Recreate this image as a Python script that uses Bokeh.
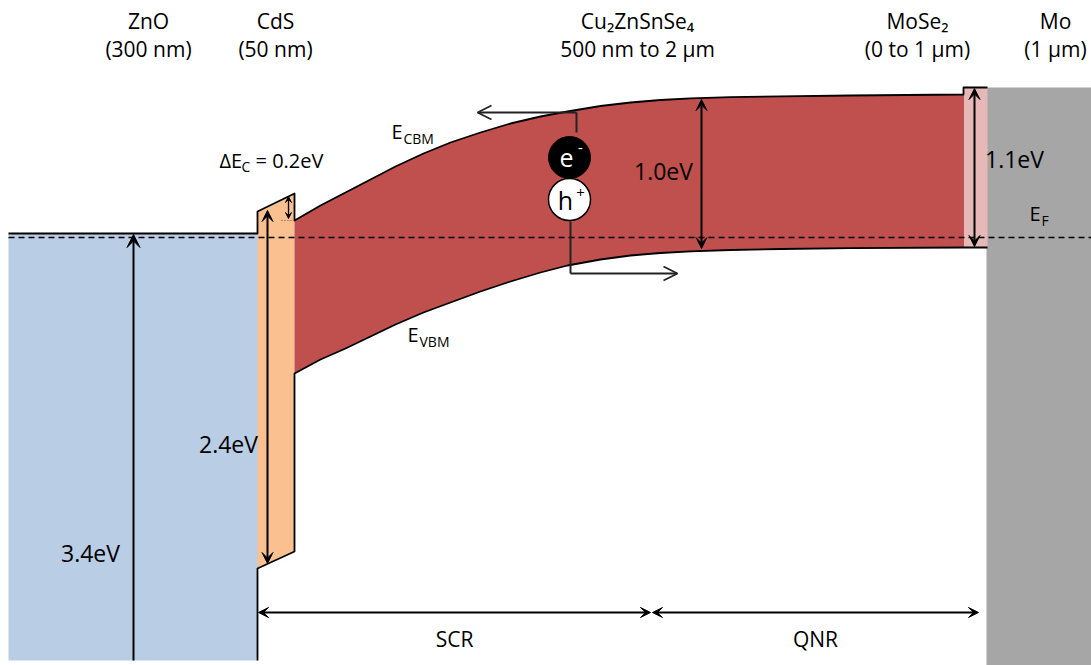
from bokeh.plotting import figure
from bokeh.models import Range1d, Arrow, VeeHead, OpenHead
from bokeh.core.properties import value
from bokeh.embed import file_html
from bokeh.resources import INLINE

# ---------------- data (diagram units: x = position, y = energy level, downward) -------------
layer_names = ["ZnO", "CdS", "Cu\u2082ZnSnSe\u2084", "MoSe\u2082", "Mo"]
layer_thick = ["(300 nm)", "(50 nm)", "500 nm to 2 \u03bcm", "(0 to 1 \u03bcm)", "(1 \u03bcm)"]
layer_center = [148, 275, 637, 917, 1055]

# layer boundaries
zno_x = [8, 257]
cds_x = [257, 294]
czts_x = [294, 963]
mose_x = [963, 987]
mo_x = [987, 1091]

# band edges
zno_cb, zno_vb = 233, 660
cds_cb = [211, 193]
cds_vb = [568, 551]
cb_x = [294, 320, 345, 370, 395, 423, 450, 480, 510, 540, 567, 600, 630, 660, 690, 730, 780, 850, 963]
cb_y = [220, 205, 192, 179, 166, 153, 142, 132, 123, 116, 111, 105.5, 102, 99.5, 97.8, 96.6, 95.8, 95, 94]
vb_x = [294, 320, 345, 370, 395, 423, 450, 480, 510, 540, 567, 600, 630, 660, 690, 730, 780, 850, 963]
vb_y = [373, 359, 348, 336, 324, 312, 302, 291, 281, 272, 265, 259, 255, 252.5, 250.8, 249.5, 248.5, 247.7, 247]
mose_cb, mose_vb = 87, 247
mo_top, mo_bottom = 87, 665
fermi = 237

gap_labels = ["3.4eV", "2.4eV", "1.0eV", "1.1eV"]
dEc_label = "= 0.2eV"
region_labels = ["SCR", "QNR"]
region_bounds = [258, 651, 978]

FONT = value("Open Sans")

p = figure(width=1091, height=665, x_range=Range1d(0, 1091), y_range=Range1d(665, 0),
           output_backend="svg", toolbar_location=None, min_border=0,
           x_axis_location=None, y_axis_location=None)
p.outline_line_color = None
p.xgrid.visible = False
p.ygrid.visible = False
p.background_fill_color = "white"
p.border_fill_color = "white"

# ---------------- fills ----------------
p.quad(left=zno_x[0], right=zno_x[1] + 0.5, top=zno_cb, bottom=zno_vb,
       fill_color="#B9CDE5", line_color=None)
p.patch([cds_x[0], cds_x[1], cds_x[1], cds_x[0]],
        [cds_cb[0], cds_cb[1], cds_vb[1], cds_vb[0]],
        fill_color="#FAC090", line_color=None)
p.patch(cb_x + [mose_x[0] + 1, mose_x[0] + 1] + vb_x[::-1],
        cb_y + [cb_y[-1], vb_y[-1]] + vb_y[::-1], fill_color="#C0504D", line_color=None)
p.quad(left=mo_x[0] - 1, right=mo_x[1], top=mo_top, bottom=mo_bottom,
       fill_color="#A6A6A6", line_color=None)
p.quad(left=mose_x[0] + 0.5, right=mose_x[1], top=mose_cb, bottom=mose_vb,
       fill_color="#E6B9B8", line_color=None)

# ---------------- outlines ----------------
top_x = [zno_x[0], zno_x[1], cds_x[0], cds_x[1], cds_x[1]] + cb_x + [mose_x[0], mose_x[1]]
top_y = [zno_cb, zno_cb, cds_cb[0], cds_cb[1], cb_y[0]] + cb_y + [mose_cb, mose_cb]
p.line(top_x, top_y, line_color="black", line_width=1.8, line_join="round")
bot_x = [mose_x[1]] + vb_x[::-1] + [cds_x[1], cds_x[0], zno_x[1]]
bot_y = [mose_vb] + vb_y[::-1] + [cds_vb[1], cds_vb[0], zno_vb]
p.line(bot_x, bot_y, line_color="black", line_width=1.8, line_join="round")

# Fermi level
p.line([zno_x[0], mo_x[1]], [fermi, fermi], line_color="black", line_width=1.5, line_dash="6 4")

# ---------------- arrows ----------------
def dbl(x0, y0, x1, y1, size=11, width=2.0):
    p.add_layout(Arrow(x_start=x0, y_start=y0, x_end=x1, y_end=y1, line_width=width,
                       start=VeeHead(size=size, fill_color="black", line_color="black"),
                       end=VeeHead(size=size, fill_color="black", line_color="black")))

def single(x0, y0, x1, y1, size=12, width=2.0):
    p.add_layout(Arrow(x_start=x0, y_start=y0, x_end=x1, y_end=y1, line_width=width,
                       end=VeeHead(size=size, fill_color="black", line_color="black")))

single(133, zno_vb, 133, zno_cb + 1, size=13)
dbl(267, 210, 267, 563)
dbl(288, cds_cb[1] + 3, 288, cb_y[0] - 2, size=6, width=1.3)
p.line([281, 293], [cb_y[0], cb_y[0]], line_color="#555555", line_width=1.2, line_dash="1 2")
dbl(701, 99, 701, 248)
dbl(974, 88, 974, 246)
dbl(region_bounds[0], 612, region_bounds[1] - 1, 612, size=10)
dbl(region_bounds[1] + 1, 612, region_bounds[2], 612, size=10)

# carrier paths
p.line([576, 576], [132, 112], line_color="#222222", line_width=2)
p.add_layout(Arrow(x_start=576, y_start=112, x_end=477, y_end=112, line_width=1.8,
                   line_color="#222222",
                   end=OpenHead(size=14, line_width=1.8, line_color="#222222")))
p.line([570, 570], [221, 273], line_color="#222222", line_width=2)
p.add_layout(Arrow(x_start=570, y_start=273, x_end=677, y_end=273, line_width=1.8,
                   line_color="#222222",
                   end=OpenHead(size=14, line_width=1.8, line_color="#222222")))

# carriers
p.scatter([569], [157], size=42, marker="circle", fill_color="black", line_color="black")
p.scatter([569], [199], size=42, marker="circle", fill_color="white", line_color="black",
          line_width=1.5)
p.text([566], [157], text=["e"], text_color="white", text_font=FONT, text_font_size="25px",
       text_align="center", text_baseline="middle")
p.text([580], [147], text=["-"], text_color="white", text_font=FONT, text_font_size="15px",
       text_align="center", text_baseline="middle")
p.text([565], [199], text=["h"], text_color="black", text_font=FONT, text_font_size="25px",
       text_align="center", text_baseline="middle")
p.text([580], [192], text=["+"], text_color="black", text_font=FONT, text_font_size="15px",
       text_align="center", text_baseline="middle")

# ---------------- texts ----------------
p.text(layer_center, [20] * 5, text=layer_names, text_font=FONT, text_font_size="21px",
       text_align="center", text_baseline="middle", text_color="black")
p.text(layer_center, [48] * 5, text=layer_thick, text_font=FONT, text_font_size="21px",
       text_align="center", text_baseline="middle", text_color="black")

p.text([90, 228, 663, 1014], [552, 443, 170, 158], text=gap_labels, text_font=FONT,
       text_font_size="23px", text_align="center", text_baseline="middle", text_color="black")

# subscripted labels
p.text([219, 391, 407, 1029], [160, 131, 334, 213], text=["\u0394E", "E", "E", "E"],
       text_font=FONT, text_font_size="20px", text_align="left", text_baseline="middle",
       text_color="black")
p.text([241, 403, 419, 1041], [166, 138, 341, 220], text=["C", "CBM", "VBM", "F"],
       text_font=FONT, text_font_size="14px", text_align="left", text_baseline="middle",
       text_color="black")
p.text([255], [160], text=[dEc_label], text_font=FONT, text_font_size="20px",
       text_align="left", text_baseline="middle", text_color="black")

p.text([454, 815], [638, 638], text=region_labels, text_font=FONT, text_font_size="21px",
       text_align="center", text_baseline="middle", text_color="black")

open("out.html", "w").write(file_html(p, INLINE))
